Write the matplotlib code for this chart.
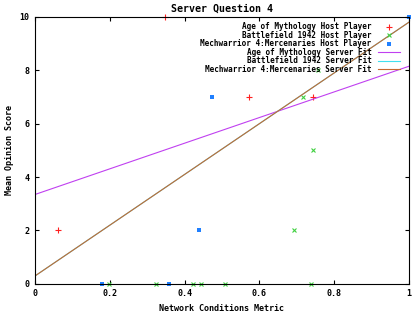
import matplotlib
matplotlib.use('Agg')
import matplotlib.pyplot as plt
import numpy as np

# datos
aom_x = [0.062, 0.348, 0.572, 0.743]
aom_y = [2, 10, 7, 7]
bf_x = [0.198, 0.324, 0.422, 0.444, 0.508, 0.738, 0.693, 0.743, 0.717, 0.757]
bf_y = [0, 0, 0, 0, 0, 0, 2, 5, 7, 8]
mw_x = [0.180, 0.357, 0.439, 0.474, 1.0]
mw_y = [0, 0, 2, 7, 10]

# ajustes lineales (ordenada, pendiente)
aom_fit = (3.35, 4.8)
bf_fit = (0.3, 9.5)
mw_fit = (0.3, 9.5)

plt.rcParams['font.family'] = 'DejaVu Sans Mono'
plt.rcParams['font.size'] = 6
plt.rcParams['font.weight'] = 'bold'

fig = plt.figure(figsize=(4.13, 3.13), dpi=100)
ax = fig.add_axes([0.085, 0.093, 0.905, 0.853])

ax.plot(aom_x, aom_y, '+', color='#ff2020', ms=4, mew=0.8, clip_on=False, label='Age of Mythology Host Player')
ax.plot(bf_x, bf_y, 'x', color='#40d040', ms=3.5, mew=0.8, clip_on=False, label='Battlefield 1942 Host Player')
ax.plot(mw_x, mw_y, 's', color='#2080ff', ms=2.5, mew=0, clip_on=False, label='Mechwarrior 4:Mercenaries Host Player')

xs = np.array([0, 1])
ax.plot(xs, aom_fit[0] + aom_fit[1] * xs, color='#c040f0', lw=0.8, label='Age of Mythology Server Fit')
ax.plot(xs, bf_fit[0] + bf_fit[1] * xs, color='#40e0f0', lw=0.8, label='Battlefield 1942 Server Fit')
ax.plot(xs, mw_fit[0] + mw_fit[1] * xs, color='#c86830', lw=0.8, label='Mechwarrior 4:Mercenaries Server Fit')

ax.set_xlim(0, 1)
ax.set_ylim(0, 10)
ax.set_xticks([0, 0.2, 0.4, 0.6, 0.8, 1])
ax.set_xticklabels(['0', '0.2', '0.4', '0.6', '0.8', '1'])
ax.set_yticks([0, 2, 4, 6, 8, 10])
ax.tick_params(direction='in', top=True, right=True, length=3, width=0.8, pad=4)
for s in ax.spines.values():
    s.set_linewidth(0.8)

ax.set_xlabel('Network Conditions Metric', fontweight='bold')
ax.set_ylabel('Mean Opinion Score', fontweight='bold')
ax.set_title('Server Question 4', fontweight='bold', pad=4)

leg = ax.legend(loc='upper right', bbox_to_anchor=(0.99, 1.0), frameon=False, markerfirst=False,
                fontsize=5.5, handlelength=2.9, labelspacing=-0.06, borderaxespad=0.3,
                handletextpad=0.8)
for t in leg.get_texts():
    t.set_ha('right')
leg._legend_box.align = 'right'

plt.savefig('out.png', dpi=100)
